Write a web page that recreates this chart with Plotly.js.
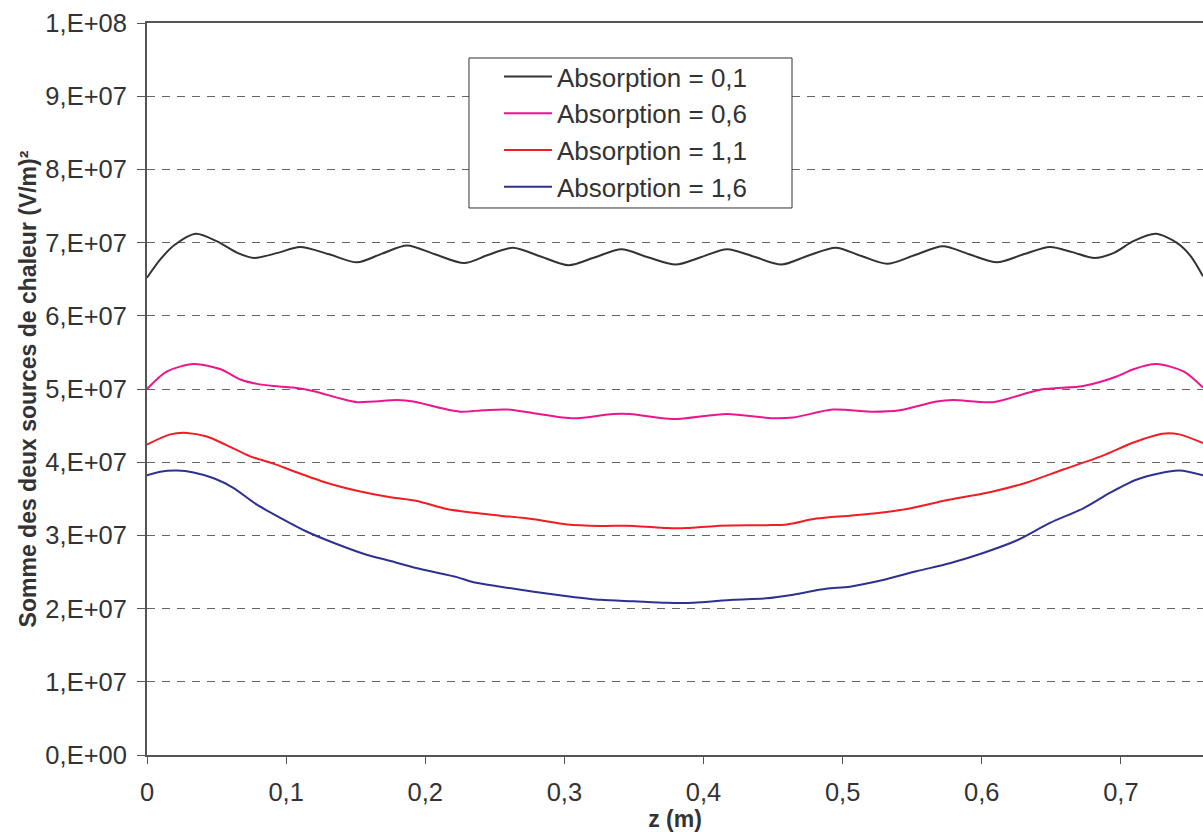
<!DOCTYPE html>
<html>
<head>
<meta charset="utf-8">
<script src="https://cdn.plot.ly/plotly-3.0.1.min.js"></script>
<style>html,body{margin:0;padding:0;background:#fff;}#chart{width:1203px;height:832px;}</style>
</head>
<body>
<div id="chart"></div>
<script>
// Series names
const seriesNames = ["Absorption = 0,1", "Absorption = 0,6", "Absorption = 1,1", "Absorption = 1,6"];

// Absorption = 0,1 (values in units of 1e7 (V/m)²)
const z01 = [0, 0.01, 0.02, 0.035, 0.05, 0.065, 0.077, 0.094, 0.110, 0.131, 0.151, 0.169, 0.187, 0.207, 0.228, 0.245, 0.263, 0.283, 0.303, 0.322, 0.341, 0.360, 0.380, 0.398, 0.417, 0.436, 0.456, 0.475, 0.495, 0.513, 0.532, 0.552, 0.572, 0.591, 0.611, 0.630, 0.649, 0.665, 0.681, 0.695, 0.709, 0.725, 0.740, 0.750, 0.759];
const v01 = [6.52, 6.78, 6.97, 7.12, 7.02, 6.86, 6.79, 6.86, 6.94, 6.84, 6.73, 6.85, 6.96, 6.84, 6.72, 6.83, 6.93, 6.81, 6.69, 6.80, 6.91, 6.80, 6.70, 6.80, 6.91, 6.81, 6.70, 6.82, 6.93, 6.82, 6.71, 6.83, 6.95, 6.84, 6.73, 6.84, 6.94, 6.87, 6.79, 6.86, 7.02, 7.12, 7.00, 6.82, 6.54];

// Absorption = 0,6
const z06 = [0, 0.0144, 0.0335, 0.053, 0.067, 0.079, 0.091, 0.105, 0.12, 0.139, 0.151, 0.163, 0.18, 0.1915, 0.211, 0.225, 0.242, 0.259, 0.278, 0.3065, 0.335, 0.347, 0.378, 0.4167, 0.450, 0.4645, 0.493, 0.522, 0.541, 0.5675, 0.5795, 0.608, 0.642, 0.673, 0.697, 0.709, 0.7256, 0.745, 0.759];
const v06 = [5.00, 5.24, 5.34, 5.27, 5.13, 5.07, 5.04, 5.02, 4.97, 4.87, 4.82, 4.83, 4.85, 4.83, 4.74, 4.69, 4.71, 4.72, 4.67, 4.60, 4.66, 4.66, 4.59, 4.66, 4.60, 4.61, 4.72, 4.69, 4.71, 4.83, 4.85, 4.82, 4.99, 5.04, 5.17, 5.27, 5.34, 5.24, 5.02];

// Absorption = 1,1
const z11 = [0, 0.0167, 0.0287, 0.043, 0.0575, 0.0742, 0.091, 0.105, 0.129, 0.151, 0.175, 0.194, 0.2155, 0.2346, 0.254, 0.278, 0.302, 0.326, 0.35, 0.3736, 0.388, 0.4095, 0.445, 0.46, 0.481, 0.5052, 0.527, 0.546, 0.572, 0.608, 0.632, 0.6585, 0.687, 0.709, 0.730, 0.742, 0.759];
const v11 = [4.24, 4.38, 4.40, 4.35, 4.23, 4.08, 3.98, 3.88, 3.72, 3.61, 3.52, 3.47, 3.36, 3.31, 3.27, 3.22, 3.15, 3.13, 3.13, 3.10, 3.10, 3.13, 3.14, 3.15, 3.23, 3.27, 3.31, 3.36, 3.47, 3.60, 3.72, 3.90, 4.09, 4.27, 4.39, 4.38, 4.26];

// Absorption = 1,6
const z16 = [0, 0.0096, 0.0216, 0.0335, 0.048, 0.062, 0.079, 0.0958, 0.115, 0.134, 0.1556, 0.175, 0.1987, 0.2227, 0.2346, 0.254, 0.278, 0.302, 0.326, 0.35, 0.3736, 0.3927, 0.4214, 0.445, 0.4645, 0.488, 0.5052, 0.529, 0.553, 0.577, 0.601, 0.625, 0.649, 0.673, 0.692, 0.711, 0.728, 0.742, 0.759];
const v16 = [3.82, 3.87, 3.885, 3.86, 3.78, 3.65, 3.42, 3.24, 3.05, 2.90, 2.75, 2.65, 2.53, 2.43, 2.36, 2.30, 2.23, 2.17, 2.12, 2.10, 2.08, 2.08, 2.12, 2.14, 2.19, 2.27, 2.30, 2.39, 2.51, 2.62, 2.76, 2.93, 3.17, 3.37, 3.58, 3.76, 3.85, 3.885, 3.82];

// Axis ticks
const xTickVals = [0, 0.1, 0.2, 0.3, 0.4, 0.5, 0.6, 0.7];
const xTickText = ["0", "0,1", "0,2", "0,3", "0,4", "0,5", "0,6", "0,7"];
const yTickVals = [0, 1e7, 2e7, 3e7, 4e7, 5e7, 6e7, 7e7, 8e7, 9e7, 1e8];
const yTickText = ["0,E+00", "1,E+07", "2,E+07", "3,E+07", "4,E+07", "5,E+07", "6,E+07", "7,E+07", "8,E+07", "9,E+07", "1,E+08"];

const colors = ["#333333", "#ec168c", "#f21c24", "#2e3190"];
const xs = [z01, z06, z11, z16];
const vs = [v01, v06, v11, v16];

const traces = xs.map((x, i) => ({
  x: x,
  y: vs[i].map(v => v * 1e7),
  type: "scatter",
  mode: "lines",
  name: seriesNames[i],
  line: {color: colors[i], width: 2, shape: "spline", smoothing: 0.8}
}));

const font = "Liberation Sans, Arial, sans-serif";

const layout = {
  width: 1203,
  height: 832,
  margin: {l: 147, r: 0, t: 23, b: 77},
  paper_bgcolor: "#ffffff",
  plot_bgcolor: "#ffffff",
  font: {family: font, color: "#333333", size: 25},
  showlegend: true,
  legend: {
    x: 0.3333, y: 0.959, xanchor: "left", yanchor: "top",
    bgcolor: "rgba(0,0,0,0)", borderwidth: 0,
    font: {family: font, size: 26, color: "#333333"},
    itemwidth: 48
  },
  shapes: [{
    type: "rect", xref: "paper", yref: "paper", layer: "above",
    x0: 0.3049, x1: 0.6108, y0: 0.7473, y1: 0.9522,
    line: {color: "#333333", width: 1}, fillcolor: "#ffffff"
  }],
  xaxis: {
    range: [0, 0.759],
    tickvals: xTickVals, ticktext: xTickText,
    showgrid: false, zeroline: false,
    showline: true, linecolor: "#555555", linewidth: 2, mirror: true,
    ticks: "outside", ticklen: 7, tickwidth: 1, tickcolor: "#555555",
    ticklabelstandoff: 6,
    tickfont: {family: font, size: 25.5, color: "#333333"},
    title: {text: "z (m)", font: {family: font, size: 23, color: "#333333", weight: "bold"}, standoff: 6},
    fixedrange: true
  },
  yaxis: {
    range: [0, 1e8],
    tickvals: yTickVals, ticktext: yTickText,
    showgrid: true, gridcolor: "#666666", gridwidth: 1, griddash: "8px,7px",
    zeroline: false,
    showline: true, linecolor: "#555555", linewidth: 2,
    ticks: "outside", ticklen: 8, tickwidth: 1, tickcolor: "#555555",
    ticklabelstandoff: 5,
    tickfont: {family: font, size: 25.5, color: "#333333"},
    title: {text: "Somme des deux sources de chaleur (V/m)²", font: {family: font, size: 23, color: "#333333", weight: "bold"}, standoff: 2},
    fixedrange: true
  }
};

Plotly.newPlot("chart", traces, layout, {displayModeBar: false, staticPlot: true});
</script>
</body>
</html>
